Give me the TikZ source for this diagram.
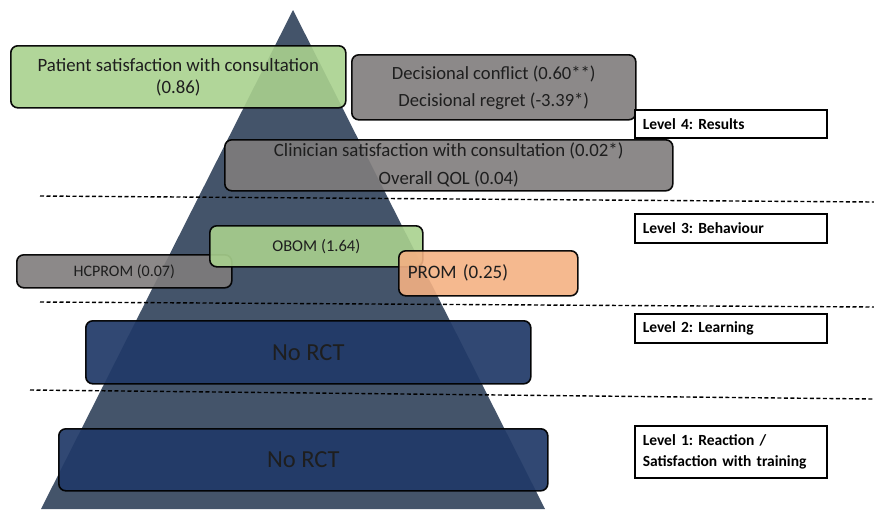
\documentclass[tikz,border=0pt]{standalone}
\usepackage{fontspec}
\setmainfont{Carlito}
\frenchspacing
\definecolor{pyr}{RGB}{68,84,106}
\definecolor{greenbox}{RGB}{169,209,142}
\definecolor{greybox}{RGB}{127,124,124}
\definecolor{orangebox}{RGB}{244,177,131}
\definecolor{navybox}{RGB}{33,58,104}
\definecolor{ink}{RGB}{30,30,30}
\begin{document}
\begin{tikzpicture}[x=1pt,y=-1pt,
  box/.style={draw=black, line width=1.6pt, rounded corners=7pt, anchor=north west,
    inner sep=0pt, align=center, fill opacity=0.9, draw opacity=0.95, text opacity=1,
    text=ink},
  levelbox/.style={draw=black, line width=1.5pt, fill=white, anchor=north west,
    inner xsep=8pt, inner ysep=0pt, align=left, text width=176pt,
    font=\bfseries\fontsize{15.5}{21}\selectfont},
  sep/.style={dashed, dash pattern=on 4pt off 2.5pt, line width=1.4pt, black}
]
\useasboundingbox (0,0) rectangle (874,509);

% pyramid
\fill[pyr] (293,10) -- (545,509) -- (41,509) -- cycle;

% level separators
\coordinate (s1a) at (40,196);  \coordinate (s1b) at (874,202);
\coordinate (s2a) at (40,302);  \coordinate (s2b) at (874,307);
\coordinate (s3a) at (30,390);  \coordinate (s3b) at (874,399);
\draw[sep] (s1a) -- (s1b);
\draw[sep] (s2a) -- (s2b);
\draw[sep] (s3a) -- (s3b);

% level 4
\node[box, fill=greenbox, minimum width=335pt, minimum height=62pt,
  font=\fontsize{18.8}{22}\selectfont] (pat) at (10,45)
  {Patient satisfaction with consultation\\(0.86)};
\node[box, fill=greybox, minimum width=284pt, minimum height=65pt,
  font=\fontsize{18.6}{27}\selectfont] (dec) at (351,54)
  {Decisional conflict (0.60**)\\Decisional regret (-3.39*)};
\node[levelbox, minimum width=192pt, minimum height=28pt] (l4) at (634,109) {Level 4: Results};
\node[box, fill=greybox, minimum width=448pt, minimum height=51pt,
  font=\fontsize{18.8}{28}\selectfont] (cli) at (224,139)
  {Clinician satisfaction with consultation (0.02*)\\Overall QOL (0.04)};

% level 3
\node[levelbox, minimum width=192pt, minimum height=29pt] (l3) at (634,213) {Level 3: Behaviour};
\node[box, fill=greybox, minimum width=215pt, minimum height=33pt,
  font=\fontsize{16}{19}\selectfont] (hcp) at (16,254) {HCPROM (0.07)};
\node[box, fill=greenbox, minimum width=213pt, minimum height=41pt,
  font=\fontsize{16.5}{19}\selectfont] (obom) at (209,225) {OBOM (1.64)};
\node[box, fill=orangebox, minimum width=179pt, minimum height=45pt,
  font=\fontsize{19}{22}\selectfont, text width=161pt, align=left] (prom) at (398,250) {PROM (0.25)};

% level 2
\node[levelbox, minimum width=192pt, minimum height=29pt] (l2) at (634,313) {Level 2: Learning};
\node[box, fill=navybox, fill opacity=0.93, minimum width=445pt, minimum height=63pt,
  font=\fontsize{24.5}{28}\selectfont] (rct2) at (85,320) {No RCT};

% level 1
\node[levelbox, minimum width=192pt, minimum height=52pt] (l1) at (634,425)
  {Level 1: Reaction /\\Satisfaction with training};
\node[box, fill=navybox, fill opacity=0.93, minimum width=489pt, minimum height=62pt,
  font=\fontsize{24.5}{28}\selectfont] (rct1) at (58,428) {No RCT};
\end{tikzpicture}
\end{document}
